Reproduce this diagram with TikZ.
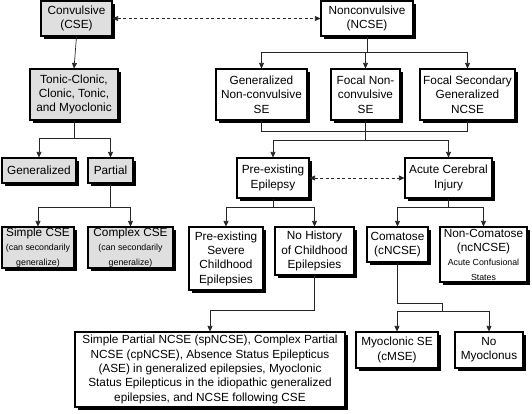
\documentclass[tikz,border=0pt]{standalone}
\usepackage{fontspec}
\setmainfont{Liberation Sans}
\usetikzlibrary{arrows.meta,shadows}
\newcommand{\boxfont}{\fontsize{11.8}{14.3}\selectfont}
\newcommand{\notefont}{\fontsize{8.8}{10.6}\selectfont}
\begin{document}
\begin{tikzpicture}[
        x=1pt, y=-1pt,
        box/.style={draw, line width=1.1pt, fill=white, align=center, inner sep=1pt, font=\boxfont,
            drop shadow={shadow xshift=3pt, shadow yshift=-3pt, fill=black, opacity=1}},
        gbox/.style={box, fill=gray!25},
        link/.style={draw=black!85, line width=0.7pt},
        arr/.style={link, -{Triangle[length=5.5pt, width=5pt]}},
        dlink/.style={link, dashed, dash pattern=on 3pt off 2.5pt, {Triangle[length=5.5pt, width=5pt]}-{Triangle[length=5.5pt, width=5pt]}},
    ]
    \useasboundingbox (0,0) rectangle (532,413);

    % ===== Top level =====
    \node[gbox, minimum width=71pt, minimum height=35pt] (cse) at (76.5, 18.5) {Convulsive\\(CSE)};
    \node[box, minimum width=92pt, minimum height=35pt] (ncse) at (367, 18.5) {Nonconvulsive\\(NCSE)};

    % ===== Convulsive branch =====
    \node[gbox, minimum width=88pt, minimum height=51pt] (tonic) at (74, 94.5) {Tonic-Clonic,\\Clonic, Tonic,\\and Myoclonic};
    \node[gbox, minimum width=74pt, minimum height=25pt] (gen) at (39, 170.5) {Generalized};
    \node[gbox, minimum width=45pt, minimum height=25pt] (part) at (110.5, 170.5) {Partial};
    \node[gbox, minimum width=72pt, minimum height=41pt] (simple) at (38, 247.5) {Simple CSE\\{\notefont (can secondarily}\\{\notefont generalize)}};
    \node[gbox, minimum width=85pt, minimum height=41pt] (complex) at (130.5, 247.5) {Complex CSE\\{\notefont (can secondarily}\\{\notefont generalize)}};

    % ===== Nonconvulsive branch =====
    \node[box, minimum width=91pt, minimum height=51pt] (gennc) at (261.5, 94.5) {Generalized\\Non-convulsive\\SE};
    \node[box, minimum width=69pt, minimum height=51pt] (focnc) at (365.5, 94.5) {Focal Non-\\convulsive\\SE};
    \node[box, minimum width=95pt, minimum height=51pt] (focsec) at (467.5, 94.5) {Focal Secondary\\Generalized\\NCSE};

    % Epilepsy vs. injury
    \node[box, minimum width=72pt, minimum height=40pt] (preep) at (273, 178) {Pre-existing\\Epilepsy};
    \node[box, minimum width=87pt, minimum height=40pt] (acute) at (448.5, 178) {Acute Cerebral\\Injury};

    \node[box, minimum width=74pt, minimum height=63pt] (presev) at (226, 258.5) {Pre-existing\\Severe\\Childhood\\Epilepsies};
    \node[box, minimum width=79pt, minimum height=48pt] (nohist) at (314.5, 251) {No History\\of Childhood\\Epilepsies};
    \node[box, minimum width=61pt, minimum height=35pt] (comat) at (397.5, 244.5) {Comatose\\(cNCSE)};
    \node[box, minimum width=87pt, minimum height=55pt] (noncom) at (483.5, 254.5) {Non-Comatose\\(ncNCSE)\\{\notefont Acute Confusional}\\{\notefont States}};

    % ===== Bottom row =====
    \node[box, minimum width=270pt, minimum height=75pt] (big) at (210, 369.5) {Simple Partial NCSE (spNCSE), Complex Partial\\NCSE (cpNCSE), Absence Status Epilepticus\\(ASE) in generalized epilepsies, Myoclonic\\Status Epilepticus in the idiopathic generalized\\epilepsies, and NCSE following CSE};
    \node[box, minimum width=82pt, minimum height=36pt] (myo) at (397, 350) {Myoclonic SE\\(cMSE)};
    \node[box, minimum width=68pt, minimum height=36pt] (nomyo) at (489, 350) {No\\Myoclonus};

    % ===== Connectors =====
    \draw[dlink] (cse.east) -- (ncse.west);
    \draw[arr] (cse.south) -- (tonic.north);
    \draw[arr] (tonic.south) -- ++(0,18) -| (gen.north);
    \draw[arr] (tonic.south) -- ++(0,18) -| (part.north);
    \draw[arr] (part.south) -- ++(0,24) -| (simple.north);
    \draw[arr] (part.south) -- ++(0,24) -| (complex.north);

    \draw[arr] (ncse.south) -- ++(0,16) -| (gennc.north);
    \draw[arr] (ncse.south) -- ++(0,16) -| (focnc.north);
    \draw[arr] (ncse.south) -- ++(0,16) -| (focsec.north);
    \draw[link] (gennc.south) -- ++(0,11) -| (focsec.south);
    \draw[arr] (focnc.south) -- ++(0,20) -| (preep.north);
    \draw[arr] (focnc.south) -- ++(0,20) -| (acute.north);

    \draw[dlink] (preep.east) -- (acute.west);
    \draw[arr] (preep.south) -- ++(0,9) -| (presev.north);
    \draw[arr] (preep.south) -- ++(0,9) -| (nohist.north);
    \draw[arr] (acute.south) -- ++(0,9) -| (comat.north);
    \draw[arr] (acute.south) -- ++(0,9) -| (noncom.north);

    \draw[arr] (nohist.south) -- ++(0,35) -| (big.north);
    \draw[arr] (comat.south) -- ++(0,41) -| ++(45,8) -| (myo.north);
    \draw[arr] (comat.south) -- ++(0,41) -| ++(45,8) -| (nomyo.north);

    \end{tikzpicture}
\end{document}
